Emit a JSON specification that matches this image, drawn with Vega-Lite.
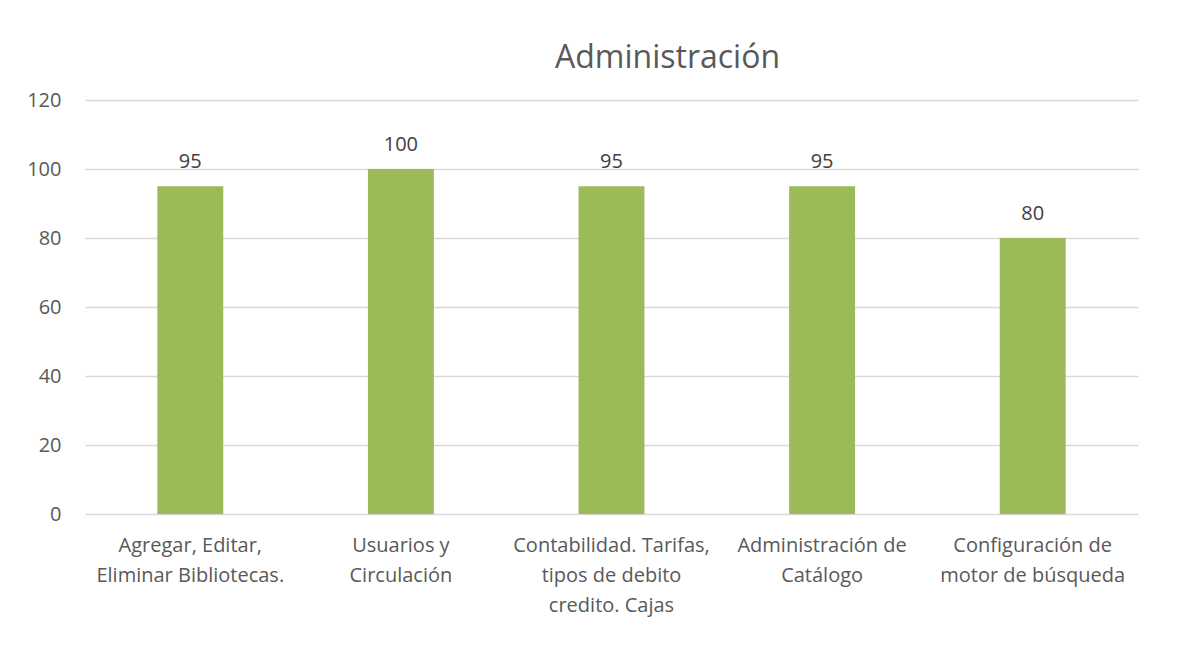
{
  "$schema": "https://vega.github.io/schema/vega-lite/v6.json",
  "width": 1053,
  "height": 414,
  "autosize": {"type": "none"},
  "padding": {"left": 85, "top": 100, "right": 52, "bottom": 155},
  "background": "white",
  "title": {
    "text": "Administración",
    "anchor": "middle",
    "frame": "group",
    "baseline": "alphabetic",
    "offset": -10,
    "dx": 56,
    "font": "Open Sans",
    "fontSize": 32,
    "fontWeight": "normal",
    "color": "#595959"
  },
  "data": {
    "values": [
      {"categoria": "Agregar, Editar,|Eliminar Bibliotecas.", "valor": 95},
      {"categoria": "Usuarios y|Circulación", "valor": 100},
      {"categoria": "Contabilidad. Tarifas,|tipos de debito|credito. Cajas", "valor": 95},
      {"categoria": "Administración de|Catálogo", "valor": 95},
      {"categoria": "Configuración de|motor de búsqueda", "valor": 80}
    ]
  },
  "encoding": {
    "x": {
      "field": "categoria",
      "type": "nominal",
      "sort": null,
      "scale": {"paddingInner": 0.687, "paddingOuter": 0.3435},
      "axis": {
        "title": null,
        "labelAngle": 0,
        "labelExpr": "split(datum.label, '|')",
        "labelLimit": 0,
        "labelFont": "Open Sans",
        "labelFontSize": 20,
        "labelColor": "#595959",
        "labelLineHeight": 30,
        "labelBaseline": "top",
        "labelPadding": 21,
        "ticks": false,
        "domain": false,
        "grid": false
      }
    },
    "y": {
      "field": "valor",
      "type": "quantitative",
      "scale": {"domain": [0, 120]},
      "axis": {
        "title": null,
        "values": [0, 20, 40, 60, 80, 100, 120],
        "labelFont": "Open Sans",
        "labelFontSize": 20,
        "labelColor": "#595959",
        "labelPadding": 24,
        "ticks": false,
        "domain": false,
        "grid": true,
        "gridColor": "#D9D9D9",
        "gridWidth": 1.3
      }
    }
  },
  "layer": [
    {"mark": {"type": "bar", "color": "#9BBB59"}},
    {
      "mark": {
        "type": "text",
        "baseline": "alphabetic",
        "dy": -18,
        "font": "Open Sans",
        "fontSize": 20,
        "color": "#404040"
      },
      "encoding": {"text": {"field": "valor", "type": "quantitative"}}
    }
  ],
  "config": {"view": {"stroke": null}}
}
